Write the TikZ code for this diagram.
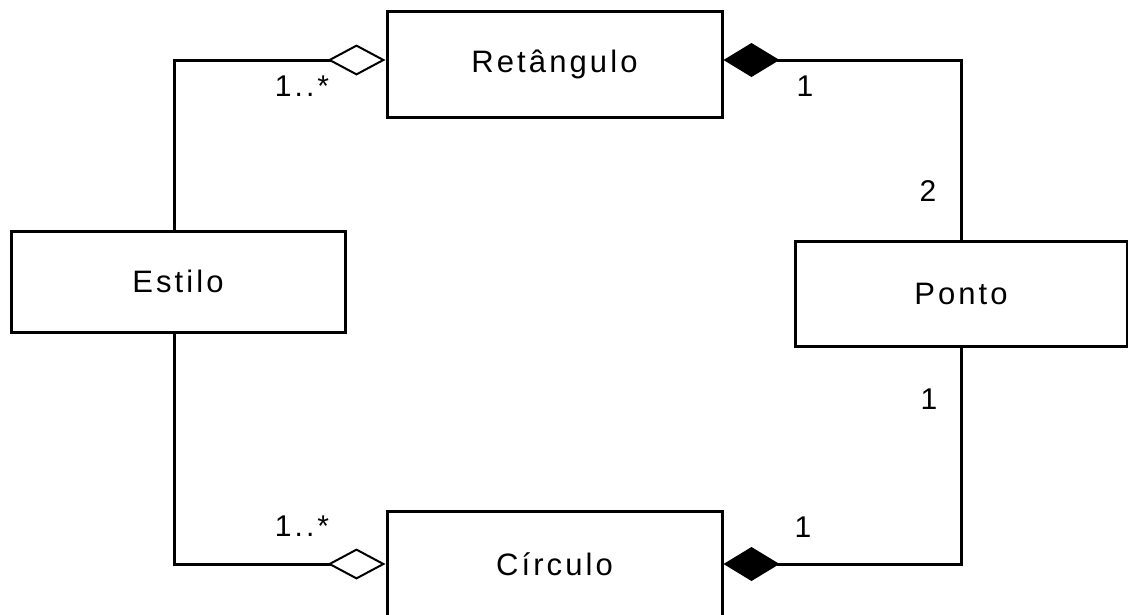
\documentclass[tikz,border=0pt]{standalone}
\usepackage{fontspec}
\setmainfont{Liberation Sans}[LetterSpace=10]
\usetikzlibrary{arrows.meta}
\begin{document}
\begin{tikzpicture}[x=1pt,y=-1pt,
  classbox/.style={draw, line width=3pt, inner sep=0pt, minimum width=335pt, minimum height=106pt, font=\fontsize{31}{31}\selectfont},
  mult/.style={inner sep=0pt, font=\fontsize{30}{30}\selectfont},
  link/.style={line width=3pt},
  aggr/.style={-{Diamond[open, length=58pt, width=31pt, line width=2pt]}},
  comp/.style={-{Diamond[length=56pt, width=34pt]}}]
\useasboundingbox (0,0) rectangle (1128,614);
\fill[white] (0,0) rectangle (1128,614);

% classes
\node[classbox] (ret) at (554.5,64) {Retângulo};
\node[classbox] (circ) at (554.5,564) {Círculo};
\node[classbox, minimum width=334pt, minimum height=101pt] (estilo) at (178,281.5) {Estilo};
\node[classbox, minimum width=332pt, minimum height=105pt] (ponto) at (961,293.5) {Ponto};

% aggregations from Estilo
\draw[link, aggr] ([xshift=-4pt]estilo.north) |- ([yshift=4pt]ret.west);
\draw[link, aggr] ([xshift=-4pt]estilo.south) |- (circ.west);

% compositions of Ponto
\draw[link, comp] (ponto.north) |- ([yshift=4pt]ret.east);
\draw[link, comp] (ponto.south) |- (circ.east);

% multiplicities
\node[mult] (m1) at (302,86) {1..*};
\node[mult] (m2) at (302,526) {1..*};
\node[mult] (m3) at (805,86) {1};
\node[mult] (m4) at (928,191) {2};
\node[mult] (m5) at (929,399) {1};
\node[mult] (m6) at (803,527) {1};
\end{tikzpicture}
\end{document}
